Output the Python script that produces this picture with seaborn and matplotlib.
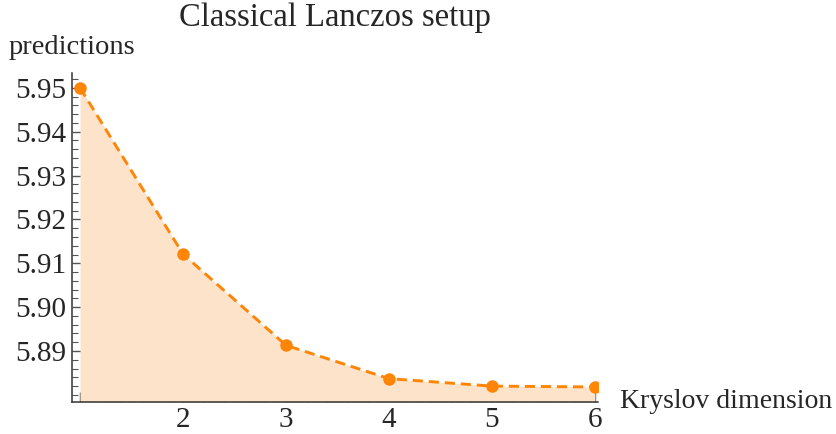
import matplotlib
matplotlib.use("Agg")
import matplotlib.pyplot as plt
import numpy as np
import pandas as pd
import seaborn as sns
from matplotlib.ticker import MultipleLocator, FixedLocator

# values
krylov_dim = [1, 2, 3, 4, 5, 6]
predictions = [5.9500, 5.9121, 5.8913, 5.8837, 5.8820, 5.8818]

x_ticks = [1, 2, 3, 4, 5, 6]
x_tick_labels = ["", "2", "3", "4", "5", "6"]
y_ticks = [5.89, 5.90, 5.91, 5.92, 5.93, 5.94, 5.95]
y_tick_labels = ["5.89", "5.90", "5.91", "5.92", "5.93", "5.94", "5.95"]

LINE_COLOR = "#ff8507"
FILL_COLOR = "#fde3c9"

sns.set_style("ticks")
plt.rcParams["font.family"] = ["Liberation Serif", "DejaVu Serif"]

df = pd.DataFrame({"k": krylov_dim, "pred": predictions})

fig = plt.figure(figsize=(8.37, 4.34), dpi=100)
ax = fig.add_axes([0.086, 0.074, 0.6285, 0.758])

y_bottom, y_top = 5.8784, 5.9534
x_left, x_right = 0.922, 6.03

ax.fill_between(df["k"], df["pred"], y_bottom, color=FILL_COLOR, linewidth=0, zorder=1)
sns.lineplot(
    data=df, x="k", y="pred", ax=ax, color=LINE_COLOR, linestyle=(0, (3.5, 2)),
    linewidth=2.1, marker="o", markersize=9, markeredgewidth=0, zorder=3,
)

ax.set_xlim(x_left, x_right)
ax.set_ylim(y_bottom, y_top)

ax.xaxis.set_major_locator(FixedLocator(x_ticks))
ax.set_xticklabels(x_tick_labels)
ax.xaxis.set_minor_locator(MultipleLocator(0.2))
ax.yaxis.set_major_locator(FixedLocator(y_ticks))
ax.set_yticklabels(y_tick_labels)
ax.yaxis.set_minor_locator(MultipleLocator(0.002))

ax.tick_params(axis="both", which="major", direction="in", length=7, width=1,
               color="#555555", labelsize=21, pad=4)
ax.tick_params(axis="both", which="minor", direction="in", length=4, width=0.8,
               color="#555555")
ax.tick_params(axis="x", pad=4)

for side in ["top", "right"]:
    ax.spines[side].set_visible(False)
for side in ["left", "bottom"]:
    ax.spines[side].set_color("#333333")
    ax.spines[side].set_linewidth(1.1)

ax.set_xlabel("")
ax.set_ylabel("")

fig.text(335 / 837, 1 - 18 / 434, "Classical Lanczos setup", ha="center", va="center", fontsize=23.5)
fig.text(9 / 837, 1 - 47 / 434, "predictions", ha="left", va="center", fontsize=20.5)
fig.text(620 / 837, 1 - 401 / 434, "Kryslov dimension", ha="left", va="center", fontsize=20)

fig.savefig("out.png", dpi=100)
